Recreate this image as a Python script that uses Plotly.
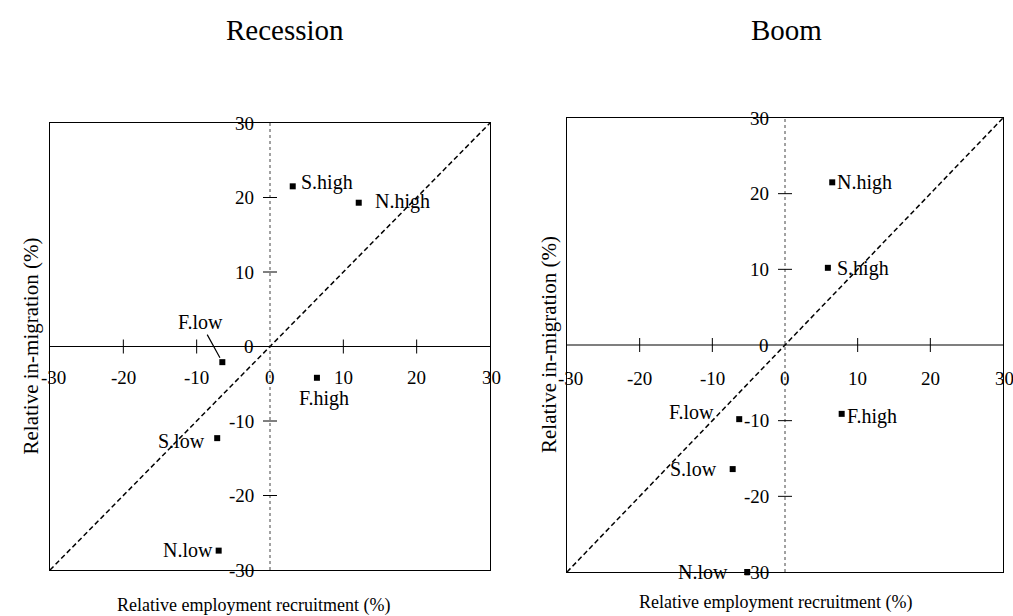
import plotly.graph_objects as go

# ---------------- data ----------------
labels = ["N.high", "S.high", "F.high", "N.low", "S.low", "F.low"]
recession_x = [12.1, 3.1, 6.4, -7.0, -7.2, -6.5]
recession_y = [19.3, 21.5, -4.2, -27.4, -12.3, -2.1]
boom_x = [6.5, 5.9, 7.8, -5.2, -7.2, -6.3]
boom_y = [21.5, 10.2, -9.1, -30.0, -16.4, -9.8]
tick_values = [-30, -20, -10, 0, 10, 20, 30]
minor_ticks = [-20, -10, 10, 20]
panel_titles = ["Recession", "Boom"]
x_title = "Relative employment recruitment (%)"
y_title = "Relative in-migration (%)"

# ---------------- styling ----------------
FONT = "Liberation Serif"
W, H = 1013, 616
lo, hi = tick_values[0], tick_values[-1]
LABEL_SIZE = 20

# label placement (anchor, xshift, yshift) per panel
rec_style = {
    "N.high": ("left", 14, 1),
    "S.high": ("left", 6, 4),
    "F.high": ("center", 7, -21),
    "N.low": ("right", -4, 1),
    "S.low": ("right", -10, -3),
    "F.low": ("arrow", -22, -40),
}
boom_style = {
    "N.high": ("left", 3, 0),
    "S.high": ("left", 7, -1),
    "F.high": ("left", 3, -3),
    "N.low": ("right", -17, 0),
    "S.low": ("right", -14, 0),
    "F.low": ("right", -23, 7),
}

panels = [
    dict(xa="x", ya="y", xs=recession_x, ys=recession_y, style=rec_style,
         xdom=[50 / W, 490 / W], ydom=[1 - 570 / H, 1 - 123 / H],
         title_x=285, ytitle_x=30, xtitle_x=253, xtitle_y=605, xlab_shift=-31),
    dict(xa="x2", ya="y2", xs=boom_x, ys=boom_y, style=boom_style,
         xdom=[567 / W, 1003 / W], ydom=[1 - 572 / H, 1 - 118 / H],
         title_x=786, ytitle_x=549, xtitle_x=775, xtitle_y=602, xlab_shift=-33),
]

fig = go.Figure()
annotations = []

for i, p in enumerate(panels):
    xa, ya = p["xa"], p["ya"]
    # diagonal reference line
    fig.add_trace(go.Scatter(x=[lo, hi], y=[lo, hi], mode="lines", xaxis=xa, yaxis=ya,
                             line=dict(color="black", width=1.5, dash="5px,3px"),
                             hoverinfo="skip", showlegend=False, cliponaxis=False))
    # vertical zero axis (dotted)
    fig.add_trace(go.Scatter(x=[0, 0], y=[lo, hi], mode="lines", xaxis=xa, yaxis=ya,
                             line=dict(color="#444", width=1, dash="dot"),
                             hoverinfo="skip", showlegend=False, cliponaxis=False))
    # horizontal zero axis (solid)
    fig.add_trace(go.Scatter(x=[lo, hi], y=[0, 0], mode="lines", xaxis=xa, yaxis=ya,
                             line=dict(color="black", width=1.2),
                             hoverinfo="skip", showlegend=False, cliponaxis=False))
    # tick crosses on x axis
    fig.add_trace(go.Scatter(x=minor_ticks, y=[0] * len(minor_ticks), mode="markers",
                             xaxis=xa, yaxis=ya, hoverinfo="skip", showlegend=False,
                             marker=dict(symbol="line-ns", size=10,
                                         line=dict(color="black", width=1))))
    # tick crosses on y axis
    fig.add_trace(go.Scatter(x=[0] * len(minor_ticks), y=minor_ticks, mode="markers",
                             xaxis=xa, yaxis=ya, hoverinfo="skip", showlegend=False,
                             marker=dict(symbol="line-ew", size=10,
                                         line=dict(color="black", width=1))))
    # data points
    fig.add_trace(go.Scatter(x=p["xs"], y=p["ys"], mode="markers", xaxis=xa, yaxis=ya,
                             marker=dict(symbol="square", size=6, color="black"),
                             text=labels, hoverinfo="text+x+y", showlegend=False,
                             cliponaxis=False))
    xr = "x" if xa == "x" else "x2"
    yr = "y" if ya == "y" else "y2"
    # point labels
    for lab, px, py in zip(labels, p["xs"], p["ys"]):
        anchor, dx, dy = p["style"][lab]
        if anchor == "arrow":
            annotations.append(dict(x=px, y=py, xref=xr, yref=yr, text=lab,
                                    showarrow=True, arrowhead=0, arrowwidth=1.2,
                                    arrowcolor="black", ax=dx, ay=dy, standoff=5,
                                    font=dict(family=FONT, size=LABEL_SIZE, color="black")))
        else:
            annotations.append(dict(x=px, y=py, xref=xr, yref=yr, text=lab,
                                    showarrow=False, xanchor=anchor, yanchor="middle",
                                    xshift=dx, yshift=dy,
                                    font=dict(family=FONT, size=LABEL_SIZE, color="black")))
    # x tick labels (below horizontal zero axis)
    for t in tick_values:
        shift = 3 if t == lo else (1 if t == hi else 0)
        annotations.append(dict(x=t, y=0, xref=xr, yref=yr, text=str(t), showarrow=False,
                                xanchor="center", yanchor="middle", yshift=p["xlab_shift"],
                                xshift=shift,
                                font=dict(family=FONT, size=19, color="black")))
    # y tick labels (left of vertical zero axis)
    for t in tick_values:
        annotations.append(dict(x=0, y=t, xref=xr, yref=yr, text=str(t), showarrow=False,
                                xanchor="right", yanchor="middle", xshift=-14,
                                font=dict(family=FONT, size=19, color="black")))
    # panel title
    annotations.append(dict(x=p["title_x"] / W, y=1 - 30 / H, xref="paper", yref="paper",
                            text=panel_titles[i], showarrow=False, xanchor="center",
                            yanchor="middle", font=dict(family=FONT, size=29, color="black")))
    # axis titles
    annotations.append(dict(x=p["xtitle_x"] / W, y=1 - p["xtitle_y"] / H, xref="paper",
                            yref="paper", text=x_title, showarrow=False, xanchor="center",
                            yanchor="middle", font=dict(family=FONT, size=18, color="black")))
    annotations.append(dict(x=p["ytitle_x"] / W, y=(p["ydom"][0] + p["ydom"][1]) / 2,
                            xref="paper", yref="paper", text=y_title, showarrow=False,
                            textangle=-90, xanchor="center", yanchor="middle",
                            font=dict(family=FONT, size=21, color="black")))

axis_common = dict(range=[lo, hi], showgrid=False, zeroline=False, showticklabels=False,
                   ticks="", showline=True, mirror=True, linecolor="black", linewidth=1)

fig.update_layout(
    width=W, height=H,
    margin=dict(l=0, r=0, t=0, b=0),
    paper_bgcolor="white", plot_bgcolor="white",
    showlegend=False,
    xaxis=dict(domain=panels[0]["xdom"], anchor="y", **axis_common),
    yaxis=dict(domain=panels[0]["ydom"], anchor="x", **axis_common),
    xaxis2=dict(domain=panels[1]["xdom"], anchor="y2", **axis_common),
    yaxis2=dict(domain=panels[1]["ydom"], anchor="x2", **axis_common),
    annotations=annotations,
    font=dict(family=FONT, color="black"),
)

fig.write_html("out.html", config={"displayModeBar": False},
               post_script="document.body.style.margin='0';")
